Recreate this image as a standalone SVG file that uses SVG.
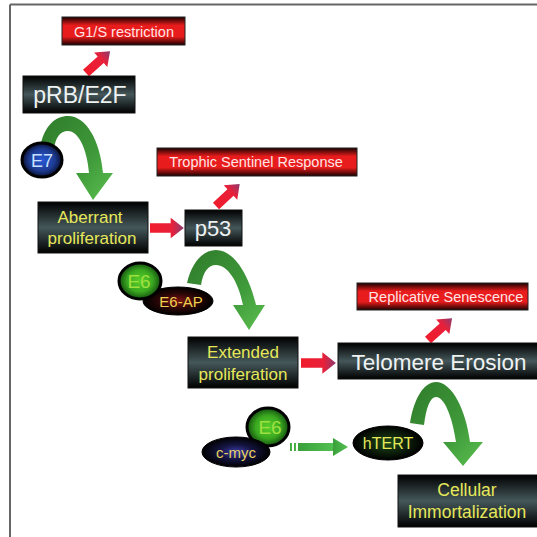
<svg xmlns="http://www.w3.org/2000/svg" width="537" height="537" viewBox="0 0 537 537">
<defs>
<linearGradient id="gDark" x1="0" y1="0" x2="0" y2="1">
<stop offset="0" stop-color="#000"/><stop offset="0.5" stop-color="#45575a"/><stop offset="1" stop-color="#000"/>
</linearGradient>
<linearGradient id="gRed" x1="0" y1="0" x2="0" y2="1">
<stop offset="0" stop-color="#1a0000"/><stop offset="0.3" stop-color="#e81c1c"/><stop offset="0.7" stop-color="#e81c1c"/><stop offset="1" stop-color="#1a0000"/>
</linearGradient>
<linearGradient id="gArrowR" x1="0" y1="0" x2="1" y2="0">
<stop offset="0" stop-color="#f01c2c"/><stop offset="0.65" stop-color="#e8203a"/><stop offset="1" stop-color="#8a3a70"/>
</linearGradient>
<linearGradient id="gGreen" x1="0" y1="0" x2="1" y2="1">
<stop offset="0" stop-color="#2f7a2a"/><stop offset="0.6" stop-color="#3f9a3a"/><stop offset="1" stop-color="#5cc050"/>
</linearGradient>
<linearGradient id="gGreenH" x1="0" y1="0" x2="1" y2="0">
<stop offset="0" stop-color="#3aa03a"/><stop offset="1" stop-color="#52c052"/>
</linearGradient>
<radialGradient id="gBlue"><stop offset="0" stop-color="#2a5ad8"/><stop offset="0.65" stop-color="#1c3a90"/><stop offset="1" stop-color="#0a1030"/></radialGradient>
<radialGradient id="gNavy"><stop offset="0" stop-color="#3a3aa8"/><stop offset="0.5" stop-color="#141440"/><stop offset="1" stop-color="#000"/></radialGradient>
<radialGradient id="gE6"><stop offset="0" stop-color="#5ad02a"/><stop offset="0.6" stop-color="#3aa820"/><stop offset="1" stop-color="#145010"/></radialGradient>
<radialGradient id="gE6AP"><stop offset="0" stop-color="#7a1410"/><stop offset="0.55" stop-color="#2a0606"/><stop offset="1" stop-color="#000"/></radialGradient>
<radialGradient id="gHT"><stop offset="0" stop-color="#1e4a1a"/><stop offset="0.6" stop-color="#0c1e0a"/><stop offset="1" stop-color="#000"/></radialGradient>
<path id="redArrow" d="M0,-5 L22,-5 L22,-11 L36,0 L22,11 L22,5 L0,5 Z"/>
</defs>
<style>
.box{fill:url(#gDark);stroke:#111;stroke-width:1}
.rbox{fill:url(#gRed);stroke:#222;stroke-width:1}
.t{font-family:"Liberation Sans",Arial,sans-serif;text-anchor:middle}
.w{fill:#eef2f2}
.y{fill:#e6e85a}
.p{fill:#ffe4e4}
.ra{fill:url(#gArrowR)}
.ga{fill:url(#gGreen)}
</style>
<rect x="0" y="0" width="537" height="537" fill="#fff"/>
<path d="M10,4.5 H537 M10,4.5 V537" fill="none" stroke="#666" stroke-width="2"/>

<g id="connectors">
<use href="#redArrow" class="ra" transform="translate(86,73) rotate(-42) scale(0.9)"/>
<use href="#redArrow" class="ra" transform="translate(216,206) rotate(-43) scale(0.9)"/>
<use href="#redArrow" class="ra" transform="translate(428,340) rotate(-42) scale(0.9)"/>
<use href="#redArrow" class="ra" transform="translate(150,228) scale(0.94)"/>
<use href="#redArrow" class="ra" transform="translate(301,363) scale(0.97)"/>
<path class="ga" d="M40,148 C44,125 56,116 68,116 C86,116 100,140 103,173 L113,173 L93,200 L76,173 L89,173 C87,148 78,131 68,131 C60,131 55,138 54,150 Z"/>
<path class="ga" d="M187,283 C192,262 203,250 216,250 C234,250 249,275 256,305 L265,305 L249,330 L233,305 L243,305 C238,280 227,265 216,265 C208,265 203,272 201,285 Z"/>
<path class="ga" d="M410,423 C414,398 424,382 436,382 C452,382 466,410 470,442 L483,442 L463,466 L443,442 L456,442 C452,415 444,397 436,397 C430,397 426,408 424,425 Z"/>
<g fill="url(#gGreenH)">
<rect x="290" y="443" width="2" height="8"/>
<rect x="294" y="443" width="2" height="8"/>
<rect x="298" y="443" width="35" height="8"/>
<path d="M333,438 L348,447 L333,456 Z"/>
</g>
</g>

<g id="g1s"><rect class="rbox" x="62" y="17" width="123" height="28"/><text class="t p" x="124" y="37" font-size="14.5">G1/S restriction</text></g>
<g id="prb"><rect class="box" x="23" y="76" width="112" height="37"/><text class="t w" x="80" y="103" font-size="23">pRB/E2F</text></g>
<g id="e7"><ellipse cx="42" cy="160" rx="20" ry="17" fill="url(#gBlue)" stroke="#000" stroke-width="3"/><text class="t" x="42" y="167" font-size="18" fill="#c8e0ff">E7</text></g>
<g id="trophic"><rect class="rbox" x="157" y="148" width="200" height="28"/><text class="t p" x="256" y="167" font-size="14.5">Trophic Sentinel Response</text></g>
<g id="aberrant"><rect class="box" x="38" y="202" width="110" height="51"/><text class="t y" x="90" y="223" font-size="17">Aberrant</text><text class="t y" x="92" y="244" font-size="17">proliferation</text></g>
<g id="p53"><rect class="box" x="185" y="210" width="57" height="36"/><text class="t w" x="213" y="236" font-size="22">p53</text></g>
<g id="e6a"><ellipse cx="178" cy="301" rx="35" ry="14" fill="url(#gE6AP)" stroke="#000" stroke-width="1"/><ellipse cx="140" cy="281" rx="21" ry="18" fill="url(#gE6)" stroke="#000" stroke-width="3"/><text class="t" x="139" y="288" font-size="19" fill="#9ee040">E6</text><text class="t" x="181" y="307" font-size="15" fill="#f0d050">E6-AP</text></g>
<g id="replicative"><rect class="rbox" x="357" y="283" width="171" height="27"/><text class="t p" x="446" y="302" font-size="14.5">Replicative Senescence</text></g>
<g id="extended"><rect class="box" x="188" y="337" width="110" height="51"/><text class="t y" x="243" y="358" font-size="17">Extended</text><text class="t y" x="243" y="380" font-size="17">proliferation</text></g>
<g id="telomere"><rect class="box" x="338" y="343" width="200" height="36"/><text class="t w" x="439" y="370" font-size="22.5">Telomere Erosion</text></g>
<g id="cmyc"><ellipse cx="268" cy="427" rx="21" ry="19" fill="url(#gE6)" stroke="#000" stroke-width="3"/><ellipse cx="236" cy="452" rx="34" ry="15" fill="url(#gNavy)" stroke="#000" stroke-width="1"/><text class="t" x="270" y="434" font-size="19" fill="#9ee040">E6</text><text class="t" x="236" y="458" font-size="15" fill="#e8d060">c-myc</text></g>
<g id="htert"><ellipse cx="388" cy="443" rx="35" ry="17" fill="url(#gHT)" stroke="#000" stroke-width="1"/><text class="t y" x="388" y="449" font-size="16">hTERT</text></g>
<g id="cellular"><rect class="box" x="398" y="475" width="140" height="52"/><text class="t y" x="467" y="496" font-size="17.5">Cellular</text><text class="t y" x="467" y="518" font-size="17.5">Immortalization</text></g>
</svg>
